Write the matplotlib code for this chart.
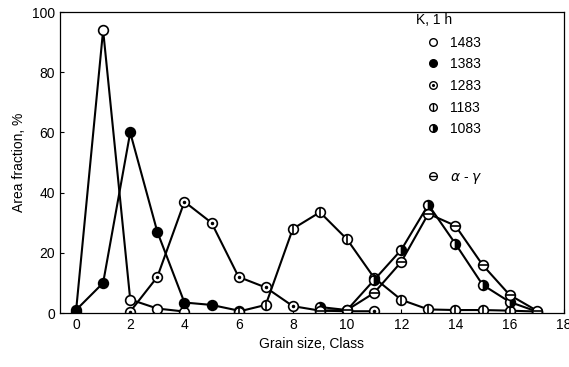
import matplotlib
matplotlib.use("Agg")
import matplotlib.pyplot as plt
from matplotlib.lines import Line2D
from matplotlib.legend_handler import HandlerTuple

plt.rcParams['font.family'] = ['Liberation Sans', 'DejaVu Sans']

x1483 = [0, 1, 2, 3, 4]
y1483 = [0.5, 94, 4.5, 1.5, 0.5]

x1383 = [0, 1, 2, 3, 4, 5, 6]
y1383 = [1, 10, 60, 27, 3.5, 2.7, 0.8]

x1283 = [2, 3, 4, 5, 6, 7, 8, 9, 10, 11]
y1283 = [0.5, 12, 37, 30, 12, 8.5, 2.3, 0.8, 0.6, 0.6]

x1183 = [6, 7, 8, 9, 10, 11, 12, 13, 14, 15, 16, 17]
y1183 = [0.5, 2.7, 28, 33.5, 24.5, 11.7, 4.4, 1.2, 1.0, 1.0, 0.8, 0.5]

x1083 = [9, 10, 11, 12, 13, 14, 15, 16, 17]
y1083 = [2.0, 1.0, 11, 21, 36, 23, 9.4, 3.7, 0.5]

xag = [9, 10, 11, 12, 13, 14, 15, 16, 17]
yag = [0.8, 1.0, 6.7, 17, 33, 29, 16, 6, 0.8]

legend_title = 'K, 1 h'
legend_labels = ['1483', '1383', '1283', '1183', '1083', r'$\alpha$ - $\gamma$']

fig = plt.figure(figsize=(5.69, 3.67), dpi=100)
ax = fig.add_axes([0.105, 0.147, 0.886, 0.820])

ms = 7
lw = 1.5

def base(xs, ys, face='white'):
    return ax.plot(xs, ys, color='black', lw=lw, marker='o', ms=ms,
                   mfc=face, mec='black', mew=1.2)[0]

base(x1483, y1483)
base(x1383, y1383, face='black')
base(x1283, y1283)
ax.plot(x1283, y1283, ls='none', marker='.', ms=3, color='black')
base(x1183, y1183)
ax.plot(x1183, y1183, ls='none', marker='|', ms=ms, mew=1.2, color='black')
ax.plot(x1083, y1083, color='black', lw=lw, marker='o', ms=ms,
        fillstyle='right', mfc='black', mfcalt='white', mec='black', mew=1.2)
base(xag, yag)
ax.plot(xag, yag, ls='none', marker='_', ms=ms, mew=1.2, color='black')

lms = 5.5

def lh(**kw):
    return Line2D([], [], ls='none', marker='o', ms=lms, mec='black', mew=1.0, **kw)

handles = [lh(mfc='white'), lh(mfc='black'),
           (lh(mfc='white'), Line2D([], [], ls='none', marker='.', ms=2.5, color='black')),
           (lh(mfc='white'), Line2D([], [], ls='none', marker='|', ms=lms, mew=1.0, color='black')),
           Line2D([], [], ls='none', marker='o', ms=lms, fillstyle='right', mfc='black',
                  mfcalt='white', mec='black', mew=1.0)]
hm = {tuple: HandlerTuple(ndivide=1, pad=0)}
kw = dict(handler_map=hm, frameon=False, fontsize=10, handlelength=1.0,
          handletextpad=0.7, labelspacing=0.55, borderaxespad=0.0, borderpad=0.0,
          loc='upper left')
leg = ax.legend(handles, legend_labels[:5], bbox_to_anchor=(0.727, 0.922), **kw)
ax.add_artist(leg)
ag_handle = (lh(mfc='white'), Line2D([], [], ls='none', marker='_', ms=lms, mew=1.0, color='black'))
ax.legend([ag_handle], [legend_labels[5]], bbox_to_anchor=(0.727, 0.475), **kw)
ax.text(0.707, 0.973, legend_title, transform=ax.transAxes, fontsize=10,
        ha='left', va='center')

ax.set_xlim(-0.6, 18)
ax.set_ylim(0, 100)
ax.set_xticks(range(0, 19, 2))
ax.set_yticks(range(0, 101, 20))
ax.tick_params(direction='in', length=3, labelsize=10, width=0.8)
for s in ax.spines.values():
    s.set_linewidth(0.9)
ax.set_xlabel('Grain size, Class', fontsize=10)
ax.set_ylabel('Area fraction, %', fontsize=10)

fig.savefig('out.png', dpi=100)
